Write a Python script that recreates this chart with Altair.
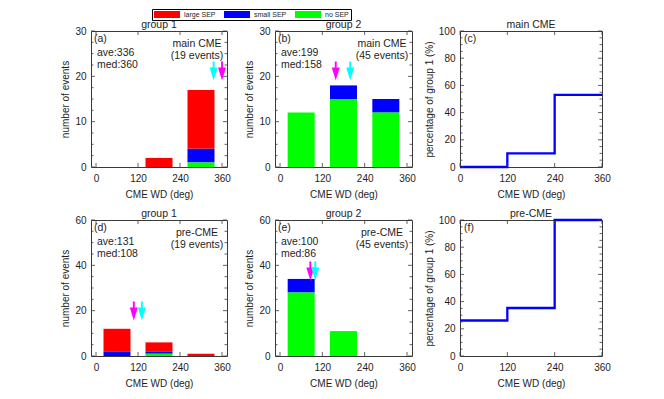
import altair as alt
import numpy as np
import pandas as pd

# ---------------- data ----------------
bin_centers = [60, 180, 300]
bin_edges = [0, 120, 240, 360]
sep_classes = ["large SEP", "small SEP", "no SEP"]
sep_colors = ["#ff0000", "#0000ff", "#00ff00"]
stack_rank = [2, 1, 0]

g1_main_large = [0, 2, 13]
g1_main_small = [0, 0, 3]
g1_main_none = [0, 0, 1]
g2_main_large = [0, 0, 0]
g2_main_small = [0, 3, 3]
g2_main_none = [12, 15, 12]
g1_pre_large = [10, 4, 1]
g1_pre_small = [2, 1, 0]
g1_pre_none = [0, 1, 0]
g2_pre_large = [0, 0, 0]
g2_pre_small = [6, 0, 0]
g2_pre_none = [28, 11, 0]

pct_main = [0, 10, 53.1]
pct_pre = [26.1, 35.3, 100]

ave_a, med_a, n_a = 336, 360, 19
ave_b, med_b, n_b = 199, 158, 45
ave_d, med_d, n_d = 131, 108, 19
ave_e, med_e, n_e = 100, 86, 45

x_ticks = [0, 120, 240, 360]
y_ticks_main = [0, 10, 20, 30]
y_ticks_pre = [0, 20, 40, 60]
y_ticks_pct = [0, 20, 40, 60, 80, 100]

# ---------------- style ----------------
FONT = "Liberation Sans"
FRAME = "#3a3a3a"
TXT = "#1e1e1e"
ARROW = "M-0.1,-1L0.1,-1L0.1,-0.37L0.42,-0.37L0,1L-0.42,-0.37L-0.1,-0.37Z"
LEG_SYM = "M-1,-0.27L1,-0.27L1,0.27L-1,0.27Z"


def xscale():
    return alt.Scale(domain=[0, 360], nice=False, zero=False)


def x_axis():
    return alt.Axis(values=x_ticks, tickCount=len(x_ticks), ticks=False, domain=False,
                    grid=False, labelPadding=6, labelFlush=False, labelOverlap=False,
                    title="CME WD (deg)", titlePadding=6)


def y_axis(vals, title):
    return alt.Axis(values=vals, tickCount=len(vals), ticks=False, domain=False,
                    grid=False, labelPadding=5, labelFlush=False, labelOverlap=False,
                    title=title, titlePadding=4)


def frame_ticks(W, H, xs, ys, ymaj):
    out = []
    step = (ymaj[1] - ymaj[0]) / 4.0
    allv = np.arange(ymaj[0], ymaj[-1] + 1e-9, step)
    ymin = [float(v) for v in allv if not any(abs(v - m) < 1e-9 for m in ymaj)]
    dx = pd.DataFrame({"v": x_ticks})
    for y0, y1 in [(H, H - 4), (0, 4)]:
        out.append(alt.Chart(dx).mark_rule(color=FRAME, strokeWidth=0.8).encode(
            x=alt.X("v:Q", scale=xs), y=alt.value(y0), y2=alt.value(y1)))
    for vals, ln in [(ymaj, 4), (ymin, 2.5)]:
        dy = pd.DataFrame({"v": vals})
        for x0, x1 in [(0, ln), (W, W - ln)]:
            out.append(alt.Chart(dy).mark_rule(color=FRAME, strokeWidth=0.8).encode(
                y=alt.Y("v:Q", scale=ys), x=alt.value(x0), x2=alt.value(x1)))
    return out


def text_layer(s, x, y, align="left", size=10.5):
    return alt.Chart(pd.DataFrame({"t": [s]})).mark_text(
        align=align, baseline="alphabetic", font=FONT, fontSize=size, color=TXT
    ).encode(text="t:N", x=alt.value(x), y=alt.value(y))


def bar_panel(tag, grp, cond, nev, large, small, none, ave, med, ymaj,
              W, H, arrow_y, legend=False):
    xs = xscale()
    ys = alt.Scale(domain=[ymaj[0], ymaj[-1]], nice=False)
    rows = []
    for cls, vals, rank in zip(sep_classes, [large, small, none], stack_rank):
        for c, v in zip(bin_centers, vals):
            rows.append({"wd": c, "cls": cls, "n": v, "rank": rank})
    df = pd.DataFrame(rows)
    if legend:
        leg = alt.Legend(orient="none", legendX=61, legendY=-22, direction="horizontal",
                         symbolType=LEG_SYM, symbolSize=676, symbolStrokeWidth=0,
                         symbolOpacity=1, clipHeight=7, labelFont=FONT, labelFontSize=7,
                         labelColor=TXT, labelOffset=4, columnPadding=8, padding=2,
                         strokeColor="#000000")
    else:
        leg = None
    bars = alt.Chart(df).mark_bar(size=27).encode(
        x=alt.X("wd:Q", scale=xs, axis=x_axis()),
        y=alt.Y("n:Q", scale=ys, stack="zero", axis=y_axis(ymaj, "number of events")),
        color=alt.Color("cls:N", scale=alt.Scale(domain=sep_classes, range=sep_colors),
                        legend=leg, title=None),
        order=alt.Order("rank:Q", sort="ascending"),
    )
    layers = [bars]
    for val, col in [(med, "#ff00ff"), (ave, "#00ffff")]:
        layers.append(alt.Chart(pd.DataFrame({"wd": [val]})).mark_point(
            shape=ARROW, filled=True, size=361, opacity=1, color=col, clip=True
        ).encode(x=alt.X("wd:Q", scale=xs), y=alt.value(arrow_y)))
    layers += frame_ticks(W, H, xs, ys, ymaj)
    layers += [
        text_layer(grp, W / 2, -3, "center"),
        text_layer(f"({tag})", 3, 11),
        text_layer(f"ave:{ave}", 6, 25),
        text_layer(f"med:{med}", 6, 37),
        text_layer(cond, W - 30, 16, "center"),
        text_layer(f"({nev} events)", W - 30, 28, "center"),
    ]
    return alt.layer(*layers).properties(width=W, height=H)


def pct_panel(tag, cond, pct, W, H):
    xs = xscale()
    ys = alt.Scale(domain=[0, 100], nice=False)
    df = pd.DataFrame({"wd": bin_edges, "pct": pct + [pct[-1]]})
    line = alt.Chart(df).mark_line(interpolate="step-after", color="#0000ff",
                                   strokeWidth=2.3).encode(
        x=alt.X("wd:Q", scale=xs, axis=x_axis()),
        y=alt.Y("pct:Q", scale=ys, axis=y_axis(y_ticks_pct, "percentage of group 1 (%)")),
    )
    layers = [line] + frame_ticks(W, H, xs, ys, y_ticks_pct) + [
        text_layer(cond, W / 2, -3, "center"),
        text_layer(f"({tag})", 4, 11),
    ]
    return alt.layer(*layers).properties(width=W, height=H)


H = 136
pa = bar_panel("a", "group 1", "main CME", n_a, g1_main_large, g1_main_small, g1_main_none,
               ave_a, med_a, y_ticks_main, 136, H, 40, legend=True)
pb = bar_panel("b", "group 2", "main CME", n_b, g2_main_large, g2_main_small, g2_main_none,
               ave_b, med_b, y_ticks_main, 137, H, 40)
pc = pct_panel("c", "main CME", pct_main, 142, H)
pd_ = bar_panel("d", "group 1", "pre-CME", n_d, g1_pre_large, g1_pre_small, g1_pre_none,
                ave_d, med_d, y_ticks_pre, 136, H, 91)
pe = bar_panel("e", "group 2", "pre-CME", n_e, g2_pre_large, g2_pre_small, g2_pre_none,
               ave_e, med_e, y_ticks_pre, 137, H, 51)
pf = pct_panel("f", "pre-CME", pct_pre, 142, H)

chart = alt.concat(
    pa, pb, pc, pd_, pe, pf, columns=3, align="each",
    spacing=alt.RowColnumber(row=53, column=48), bounds="flush"
).resolve_scale(
    color="independent"
).properties(
    padding={"left": 52, "top": 0, "right": 4, "bottom": 2}
).configure_view(
    stroke=FRAME, strokeWidth=1
).configure_axis(
    labelFont=FONT, titleFont=FONT, labelFontSize=10, titleFontSize=10,
    titleFontWeight="normal", labelColor=TXT, titleColor=TXT
)

chart.save("out.html", embed_options={"renderer": "svg", "actions": False})
